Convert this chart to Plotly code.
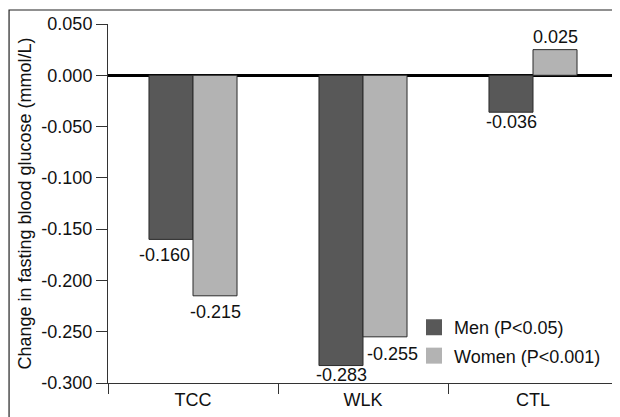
import plotly.graph_objects as go

categories = ["TCC", "WLK", "CTL"]
men = [-0.160, -0.283, -0.036]
women = [-0.215, -0.255, 0.025]
men_name = "Men (P<0.05)"
women_name = "Women (P<0.001)"
ytick_vals = [0.05, 0.0, -0.05, -0.10, -0.15, -0.20, -0.25, -0.30]

# label tweaks (pixels): horizontal nudge, vertical nudge
men_dx = [-7, 0, 0]
men_dy = [-4, 3, 2]
women_dx = [0, 7, 0]
women_dy = [-4, -5, 1]

MEN_C = "#585858"
WOMEN_C = "#b3b3b3"
EDGE = "#2b2b2b"
FONT = "Liberation Sans, Arial, sans-serif"

fig = go.Figure()
fig.add_trace(go.Bar(x=categories, y=men, name=men_name, marker=dict(color=MEN_C, line=dict(color=EDGE, width=1)), showlegend=False))
fig.add_trace(go.Bar(x=categories, y=women, name=women_name, marker=dict(color=WOMEN_C, line=dict(color=EDGE, width=1)), showlegend=False))
# legend entries (square swatches)
fig.add_trace(go.Scatter(x=[None], y=[None], mode="markers", name=men_name, legendgroup="m",
                         marker=dict(symbol="square", size=16, color=MEN_C)))
fig.add_trace(go.Scatter(x=[None], y=[None], mode="markers", name=women_name, legendgroup="w",
                         marker=dict(symbol="square", size=16, color=WOMEN_C)))

ann = []
for vals, dxs, dys, off in ((men, men_dx, men_dy, -22), (women, women_dx, women_dy, 22)):
    for c, v, dx, dy in zip(categories, vals, dxs, dys):
        ann.append(dict(x=c, y=v, text=f"{v:.3f}", showarrow=False,
                        xshift=off + dx, yshift=dy,
                        yanchor="top" if v < 0 else "bottom",
                        font=dict(size=18, color="#111", family=FONT)))

fig.update_layout(
    width=620, height=417,
    margin=dict(l=100, r=10, t=16, b=42, autoexpand=False),
    paper_bgcolor="white", plot_bgcolor="white",
    font=dict(family=FONT, size=18, color="#111"),
    barmode="group", bargap=0.482, bargroupgap=0,
    annotations=ann,
    legend=dict(x=0.6, y=0.206, xanchor="left", yanchor="top", bgcolor="rgba(0,0,0,0)",
                font=dict(size=18), traceorder="grouped", tracegroupgap=2, itemsizing="trace"),
    shapes=[dict(type="rect", xref="paper", yref="paper", x0=-0.194, x1=1.5, y0=-0.5, y1=1.039,
                 line=dict(color="#222", width=1.2), layer="below")],
)
fig.update_xaxes(showline=True, linecolor="#333", linewidth=1, ticks="outside", tickson="boundaries",
                 ticklen=10, tickcolor="#333", showgrid=False, tickfont=dict(size=18), automargin=False)
fig.update_yaxes(range=[-0.3, 0.05], tickvals=ytick_vals, ticktext=[f"{v:.3f}" for v in ytick_vals],
                 showline=True, linecolor="#333", linewidth=1, ticks="outside", ticklen=11,
                 tickcolor="#333", showgrid=False, zeroline=True, zerolinecolor="#000", zerolinewidth=2.5,
                 title=dict(text="Change in fasting blood glucose (mmol/L)", font=dict(size=18), standoff=5),
                 tickfont=dict(size=18), automargin=False)

fig.write_html("out.html")
